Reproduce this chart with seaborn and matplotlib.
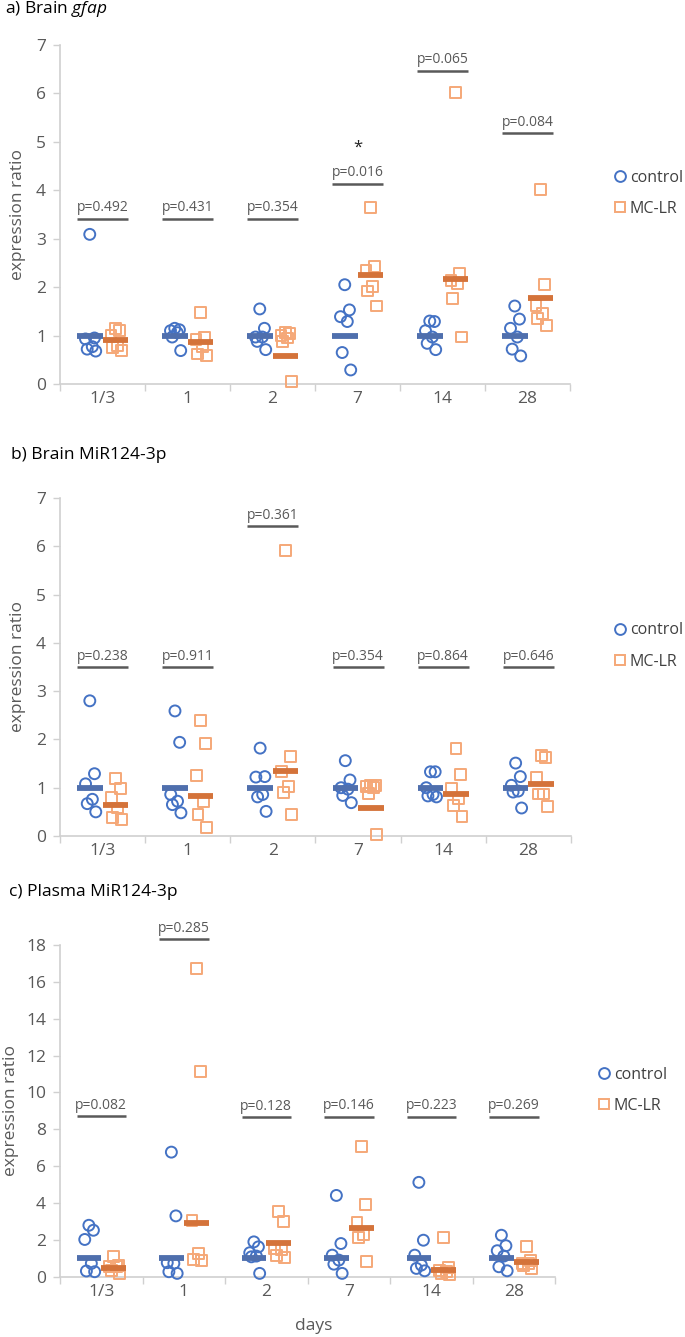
import numpy as np
import pandas as pd
import matplotlib
matplotlib.use("Agg")
import matplotlib.pyplot as plt
import seaborn as sns
from matplotlib.lines import Line2D

# ---------------- data ----------------
days = ["1/3", "1", "2", "7", "14", "28"]

# a) Brain gfap
a_control = [
    [3.09, 0.95, 0.93, 0.77, 0.72, 0.68],
    [1.15, 1.12, 1.10, 1.06, 0.97, 0.69],
    [1.55, 1.15, 0.97, 0.97, 0.88, 0.71],
    [2.05, 1.53, 1.39, 1.29, 0.65, 0.29],
    [1.30, 1.29, 1.10, 0.97, 0.84, 0.71],
    [1.61, 1.34, 1.15, 0.97, 0.72, 0.58],
]
a_mclr = [
    [1.15, 1.10, 1.00, 0.79, 0.76, 0.70],
    [1.47, 0.97, 0.92, 0.77, 0.62, 0.58],
    [1.06, 1.04, 1.00, 0.95, 0.88, 0.05],
    [3.64, 2.42, 2.35, 2.01, 1.92, 1.61],
    [6.02, 2.29, 2.14, 2.07, 1.77, 0.97],
    [4.02, 2.05, 1.63, 1.45, 1.36, 1.20],
]
a_control_mean = [1.0, 1.0, 1.0, 1.0, 1.0, 1.0]
a_mclr_mean = [0.90, 0.86, 0.58, 2.25, 2.16, 1.77]
a_pvals = ["0.492", "0.431", "0.354", "0.016", "0.065", "0.084"]
a_pline = [3.41, 3.41, 3.41, 4.14, 6.47, 5.18]

# b) Brain MiR124-3p
b_control = [
    [2.80, 1.29, 1.08, 0.76, 0.67, 0.50],
    [2.59, 1.94, 0.86, 0.72, 0.65, 0.48],
    [1.82, 1.23, 1.22, 0.86, 0.81, 0.51],
    [1.56, 1.16, 1.00, 0.97, 0.84, 0.69],
    [1.33, 1.33, 1.00, 0.86, 0.83, 0.81],
    [1.51, 1.23, 1.05, 0.93, 0.91, 0.58],
]
b_mclr = [
    [1.20, 0.98, 0.80, 0.58, 0.39, 0.35],
    [2.40, 1.91, 1.26, 0.71, 0.44, 0.18],
    [5.92, 1.64, 1.33, 1.03, 0.91, 0.45],
    [1.05, 1.04, 1.02, 1.00, 0.88, 0.03],
    [1.82, 1.27, 0.98, 0.77, 0.63, 0.41],
    [1.66, 1.62, 1.22, 0.87, 0.87, 0.62],
]
b_control_mean = [1.0, 1.0, 1.0, 1.0, 1.0, 1.0]
b_mclr_mean = [0.64, 0.83, 1.34, 0.57, 0.87, 1.07]
b_pvals = ["0.238", "0.911", "0.361", "0.354", "0.864", "0.646"]
b_pline = [3.50, 3.50, 6.41, 3.50, 3.50, 3.50]

# c) Plasma MiR124-3p
c_control = [
    [2.79, 2.52, 2.02, 0.72, 0.31, 0.27],
    [6.76, 3.30, 0.76, 0.72, 0.27, 0.18],
    [1.89, 1.62, 1.30, 1.12, 1.08, 0.18],
    [4.41, 1.80, 1.17, 0.90, 0.68, 0.18],
    [5.12, 1.98, 1.17, 0.63, 0.45, 0.32],
    [2.25, 1.68, 1.41, 1.12, 0.54, 0.32],
]
c_mclr = [
    [1.08, 0.63, 0.54, 0.54, 0.36, 0.18],
    [16.73, 11.12, 3.05, 1.26, 0.95, 0.90],
    [3.55, 3.01, 1.53, 1.48, 1.17, 1.05],
    [7.08, 3.93, 2.97, 2.29, 2.11, 0.81],
    [2.11, 0.49, 0.32, 0.27, 0.18, 0.14],
    [1.62, 0.90, 0.72, 0.72, 0.63, 0.45],
]
c_control_mean = [1.0, 1.0, 1.0, 1.0, 1.0, 1.0]
c_mclr_mean = [0.49, 2.94, 1.84, 2.65, 0.36, 0.81]
c_pvals = ["0.082", "0.285", "0.128", "0.146", "0.223", "0.269"]
c_pline = [8.72, 18.32, 8.65, 8.68, 8.68, 8.68]

groups = ["control", "MC-LR"]

# ---------------- style ----------------
sns.set_theme(style="white")
plt.rcParams["font.family"] = ["Open Sans", "DejaVu Sans"]
plt.rcParams["mathtext.fontset"] = "custom"
plt.rcParams["mathtext.rm"] = "Open Sans"
plt.rcParams["mathtext.it"] = "Open Sans:italic"

BLUE = "#4472C4"
ORANGE = "#F5A878"
BLUE_BAR = "#4F6FAD"
ORANGE_BAR = "#D4733A"
GRAY = "#595959"
AXC = "#D0D0D0"
JIT = np.array([0.0, 0.055, -0.05, 0.03, -0.03, 0.07])
OFF = 0.15
FS = 12.5
LFS = 11.5

W, H = 685, 1337
fig = plt.figure(figsize=(W / 100, H / 100), dpi=100)


def px_axes(left, right, top, bottom):
    return fig.add_axes([left / W, 1 - bottom / H, (right - left) / W, (bottom - top) / H])


def draw(ax, ctrl, mclr, ctrl_mean, mclr_mean, pvals, pline, ymax, ystep, star=None):
    rows = []
    for i in range(len(days)):
        for k, v in enumerate(ctrl[i]):
            rows.append(dict(pos=i - OFF + JIT[k % len(JIT)], value=v, group="control"))
        for k, v in enumerate(mclr[i]):
            rows.append(dict(pos=i + OFF + JIT[k % len(JIT)], value=v, group="MC-LR"))
    df = pd.DataFrame(rows)
    sns.scatterplot(
        data=df, x="pos", y="value", hue="group", style="group",
        hue_order=groups, style_order=groups,
        palette={"control": BLUE, "MC-LR": ORANGE},
        markers={"control": "o", "MC-LR": "s"},
        s=62, linewidth=1.4, ax=ax, legend=False, clip_on=False, zorder=3,
    )
    for coll in ax.collections:
        fc = coll.get_facecolors()
        coll.set_edgecolors(fc)
        coll.set_facecolor("none")

    pos = np.arange(len(days))
    ax.hlines(ctrl_mean, pos - 2 * OFF, pos, color=BLUE_BAR, lw=4.2, zorder=4)
    ax.hlines(mclr_mean, pos, pos + 2 * OFF, color=ORANGE_BAR, lw=4.2, zorder=4)

    ax.hlines(pline, pos - 2 * OFF, pos + 2 * OFF, color=GRAY, lw=1.8, clip_on=False)
    for i, (p, y) in enumerate(zip(pvals, pline)):
        ax.annotate(f"p={p}", (i, y), xytext=(0, 2.5), textcoords="offset points",
                    ha="center", va="bottom", fontsize=10, color=GRAY,
                    annotation_clip=False)
    if star is not None:
        ax.text(star[0], star[1], "*", ha="center", va="center", fontsize=12, color="#222222")

    ax.set_xlim(-0.5, len(days) - 0.5)
    ax.set_ylim(0, ymax)
    ax.set_xticks(pos)
    ax.set_xticklabels(days)
    ax.set_xticks(np.arange(-0.5, len(days), 1), minor=True)
    ax.set_yticks(np.arange(0, ymax + 0.01, ystep))
    ax.set_yticklabels([f"{int(v)}" for v in np.arange(0, ymax + 0.01, ystep)])
    ax.tick_params(axis="x", which="major", length=0, labelsize=FS, labelcolor=GRAY, pad=5)
    ax.tick_params(axis="x", which="minor", length=5, width=1, color=AXC, direction="out", bottom=True)
    ax.tick_params(axis="y", which="major", length=5, width=1, color=AXC, direction="out",
                   labelsize=FS, labelcolor=GRAY, pad=5, left=True)
    for s in ["top", "right"]:
        ax.spines[s].set_visible(False)
    for s in ["left", "bottom"]:
        ax.spines[s].set_color(AXC)
        ax.spines[s].set_linewidth(1.2)
    ax.set_xlabel("")
    ax.set_ylabel("expression ratio", fontsize=FS, color=GRAY)

    handles = [
        Line2D([], [], ls="none", marker="o", ms=7.8, mfc="none", mec=BLUE, mew=1.4),
        Line2D([], [], ls="none", marker="s", ms=7.8, mfc="none", mec=ORANGE, mew=1.4),
    ]
    return handles


def add_legend(ax, handles, x_anchor):
    ax.legend(handles, groups, loc="center left", bbox_to_anchor=(x_anchor, 0.562),
              frameon=False, fontsize=LFS, handlelength=0.8, handletextpad=0.2,
              labelspacing=0.95, borderpad=0, borderaxespad=0, labelcolor="#404040")


ax_a = px_axes(60, 570, 45, 384)
h = draw(ax_a, a_control, a_mclr, a_control_mean, a_mclr_mean, a_pvals, a_pline, 7, 1,
         star=(3, 4.87))
add_legend(ax_a, h, (614 - 60) / 510)
ax_a.yaxis.set_label_coords(-0.066, 0.5)

ax_b = px_axes(60, 571, 498, 836)
h = draw(ax_b, b_control, b_mclr, b_control_mean, b_mclr_mean, b_pvals, b_pline, 7, 1)
add_legend(ax_b, h, (614 - 60) / 511)
ax_b.yaxis.set_label_coords(-0.066, 0.5)

ax_c = px_axes(60, 555, 945, 1276.7)
h = draw(ax_c, c_control, c_mclr, c_control_mean, c_mclr_mean, c_pvals, c_pline, 18, 2)
add_legend(ax_c, h, (598 - 60) / 495)
ax_c.yaxis.set_label_coords(-0.083, 0.5)
ax_c.set_xlabel("days", fontsize=FS, color=GRAY)
ax_c.xaxis.set_label_coords(0.512, -0.125)

fig.text(5 / W, 1 - 9 / H, r"a) Brain $\it{gfap}$", fontsize=FS, color="black", va="center")
fig.text(11 / W, 1 - 455 / H, "b) Brain MiR124-3p", fontsize=FS, color="black", va="center")
fig.text(9 / W, 1 - 892 / H, "c) Plasma MiR124-3p", fontsize=FS, color="black", va="center")

fig.savefig("out.png", dpi=100, facecolor="white")
